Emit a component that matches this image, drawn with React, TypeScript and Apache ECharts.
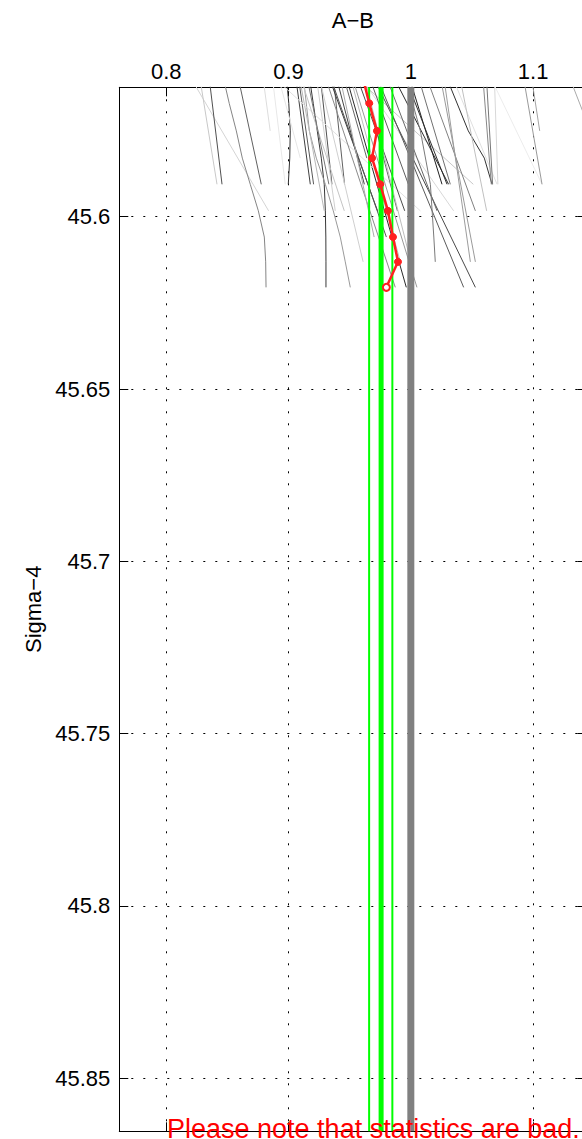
import React, { useEffect, useRef } from "react";
import * as echarts from "echarts";

const xTicks = [0.8, 0.9, 1, 1.1];
const yTicks = [45.6, 45.65, 45.7, 45.75, 45.8, 45.85];
const xRange = [0.7616, 1.1435];
const yRange = [45.56245, 45.8654];

const depthLevels = [45.5594, 45.5671, 45.5751, 45.583, 45.5906, 45.5983, 45.6059, 45.6131, 45.6205];
const meanProfile = [0.9606, 0.966, 0.9723, 0.9683, 0.975, 0.9813, 0.9854, 0.9895, 0.98];
const greenLines = [0.9659, 0.9757, 0.9849];
const referenceValue = 1;
const noteText = "Please note that statistics are bad.";

// each profile: [depth level index, value]
const profiles: [number, number][][] = [
  [[0, 0.8196], [5, 0.8837]],
  [[0, 0.8273], [4, 0.8415]],
  [[0, 0.835], [4, 0.8456]],
  [[0, 0.8465], [1, 0.8515], [2, 0.8573], [3, 0.8622], [4, 0.8687], [5, 0.8753], [6, 0.8802], [7, 0.8813], [8, 0.8816]],
  [[0, 0.8587], [4, 0.8777]],
  [[0, 0.8867], [4, 0.8973]],
  [[0, 0.8982], [1, 0.9002], [2, 0.9014], [3, 0.901], [4, 0.8998]],
  [[0, 0.9058], [4, 0.9178]],
  [[0, 0.908], [4, 0.9205]],
  [[0, 0.917], [1, 0.9202], [2, 0.9235], [3, 0.9268], [4, 0.9292], [5, 0.9301], [6, 0.9305], [7, 0.9306], [8, 0.9306]],
  [[0, 0.926], [4, 0.9355]],
  [[0, 0.9227], [5, 0.9382]],
  [[0, 0.9366], [4, 0.9458]],
  [[0, 0.9121], [2, 0.917], [3, 0.9227], [4, 0.9301], [5, 0.9366], [6, 0.9423], [7, 0.9464], [8, 0.9505]],
  [[0, 0.9088], [5, 0.9292]],
  [[0, 0.933], [5, 0.9728]],
  [[0, 0.9472], [8, 0.9963]],
  [[0, 0.9546], [4, 1.0511]],
  [[0, 0.8875], [5, 1.0078]],
  [[0, 0.9587], [5, 1.035]],
  [[0, 0.9693], [8, 1.0528]],
  [[0, 0.9722], [8, 1.0432]],
  [[0, 0.98], [5, 1.0214]],
  [[0, 0.9986], [4, 1.0255]],
  [[0, 0.9952], [4, 1.0296]],
  [[0, 0.9859], [4, 1.0309]],
  [[0, 1.0061], [4, 1.0323]],
  [[0, 1.0127], [5, 1.0528]],
  [[0, 1.0269], [7, 1.0487]],
  [[0, 1.029], [2, 1.047], [3, 1.0601], [4, 1.0664]],
  [[0, 1.0339], [4, 1.0705]],
  [[0, 1.0589], [4, 1.0658]],
  [[0, 1.0618], [4, 1.0669]],
  [[0, 1.065], [4, 1.1073]],
  [[0, 1.092], [4, 1.1073]],
  [[0, 1.0986], [2, 1.1054]],
  [[0, 1.1296], [2, 1.1468]],
  [[0, 0.9955], [2, 1.0078], [4, 1.016], [6, 1.0188], [7, 1.02]],
  [[0, 1.0241], [7, 1.0528]],
  [[0, 0.8916], [3, 0.9096]],
  [[0, 0.9342], [6, 0.98]],
  [[0, 0.9505], [7, 0.9914]],
  [[0, 0.9603], [5, 0.989]],
  [[0, 0.9096], [5, 0.9456]],
  [[0, 0.93], [8, 0.9873]],
  [[0, 1.0683], [4, 1.0712]],
  [[0, 0.939], [4, 0.962]],
  [[0, 0.942], [6, 0.97]],
  [[0, 0.945], [3, 0.964]],
  [[0, 0.952], [8, 1.005]],
  [[0, 0.925], [7, 0.961]],
  [[0, 0.915], [4, 0.933]],
  [[0, 0.956], [5, 0.995]],
  [[0, 0.962], [7, 1.0]],
  [[0, 0.966], [4, 0.998]],
  [[0, 1.04], [5, 1.062]],
  [[0, 0.879], [2, 0.885]],
];

const profileShades = [
  "#d4d4d4", "#c8c8c8", "#505050", "#858585", "#606060", "#e8e8e8", "#303030", "#404040",
  "#585858", "#383838", "#505050", "#d0d0d0", "#606060", "#9a9a9a", "#b8b8b8", "#3a3a3a",
  "#2a2a2a", "#c8c8c8", "#e0e0e0", "#d8d8d8", "#4a4a4a", "#5a5a5a", "#686868", "#202020",
  "#303030", "#2c2c2c", "#707070", "#808080", "#9c9c9c", "#333333", "#e0e0e0", "#888888",
  "#777777", "#ececec", "#999999", "#a4a4a4", "#aaaaaa", "#7a7a7a", "#9a9a9a", "#e6e6e6",
  "#555555", "#bbbbbb", "#6a6a6a", "#c4c4c4", "#8a8a8a", "#d8d8d8",
  "#444444", "#aaaaaa", "#666666", "#999999", "#cfcfcf", "#777777", "#4c4c4c", "#bdbdbd",
  "#5e5e5e", "#c0c0c0", "#dddddd",
];

export default function App() {
  const ref = useRef<HTMLDivElement>(null);

  useEffect(() => {
    if (!ref.current) return;
    const chart = echarts.init(ref.current, null, { renderer: "svg" });
    const font = "'Liberation Sans', Arial, Helvetica, sans-serif";
    const red = "#ff2020";
    const greenWidths = [2, 5, 2];

    const profileSeries = profiles.map((p, i) => ({
      type: "line",
      data: p.map(([lvl, x]) => [x, depthLevels[lvl]]),
      symbol: "none",
      showSymbol: false,
      silent: true,
      lineStyle: { color: profileShades[i % profileShades.length], width: 1 },
    }));

    const greenSeries = greenLines.map((x, i) => ({
      type: "line",
      data: [[x, yRange[0]], [x, yRange[1]]],
      symbol: "none",
      silent: true,
      lineStyle: { color: "#00ff00", width: greenWidths[i] },
    }));

    const refSeries = {
      type: "line",
      data: [[referenceValue, yRange[0]], [referenceValue, yRange[1]]],
      symbol: "none",
      silent: true,
      lineStyle: { color: "#808080", width: 7 },
    };

    const last = meanProfile.length - 1;
    const meanSeries = {
      type: "line",
      data: meanProfile.map((x, i) => ({
        value: [x, depthLevels[i]],
        symbol: i === 0 ? "none" : "circle",
        itemStyle:
          i === last
            ? { color: "#ffffff", borderColor: red, borderWidth: 2 }
            : { color: red, borderColor: red, borderWidth: 1 },
      })),
      symbolSize: 7,
      showSymbol: true,
      silent: true,
      lineStyle: { color: red, width: 2.5 },
    };

    const axisLineStyle = { show: true, onZero: false, lineStyle: { color: "#000", width: 1 } };
    const dotted = { show: true, lineStyle: { color: "#000", width: 1, type: [2, 10] } };
    const labelStyle = { fontSize: 22, color: "#000", fontFamily: font };

    chart.setOption({
      animation: false,
      backgroundColor: "#fff",
      grid: { left: 119.3, top: 87.3, width: 467, height: 1044, containLabel: false },
      xAxis: [
        {
          type: "value",
          position: "top",
          min: xRange[0],
          max: xRange[1],
          name: "A−B",
          nameLocation: "middle",
          nameGap: 56,
          nameTextStyle: labelStyle,
          axisLine: axisLineStyle,
          axisTick: { show: true, inside: true, length: 9, customValues: xTicks, lineStyle: { color: "#000" } },
          axisLabel: { show: true, customValues: xTicks, margin: 5, ...labelStyle },
          splitLine: dotted,
        },
        {
          type: "value",
          position: "bottom",
          min: xRange[0],
          max: xRange[1],
          axisLine: axisLineStyle,
          axisTick: { show: true, inside: true, length: 9, customValues: xTicks, lineStyle: { color: "#000" } },
          axisLabel: { show: false },
          splitLine: { show: false },
        },
      ],
      yAxis: [
        {
          type: "value",
          position: "left",
          inverse: true,
          min: yRange[0],
          max: yRange[1],
          name: "Sigma−4",
          nameLocation: "middle",
          nameGap: 75,
          nameRotate: 90,
          nameTextStyle: labelStyle,
          axisLine: axisLineStyle,
          axisTick: { show: true, inside: true, length: 9, customValues: yTicks, lineStyle: { color: "#000" } },
          axisLabel: { show: true, customValues: yTicks, margin: 9, ...labelStyle },
          splitLine: dotted,
        },
        {
          type: "value",
          position: "right",
          inverse: true,
          min: yRange[0],
          max: yRange[1],
          axisLine: axisLineStyle,
          axisTick: { show: true, inside: true, length: 9, customValues: yTicks, lineStyle: { color: "#000" } },
          axisLabel: { show: false },
          splitLine: { show: false },
        },
      ],
      series: [...profileSeries, ...greenSeries, refSeries, meanSeries],
      graphic: [
        {
          type: "text",
          x: 167,
          y: 1129,
          z: 100,
          silent: true,
          style: {
            text: noteText,
            fill: "#ff0000",
            fontSize: 27,
            fontFamily: font,
            align: "left",
            verticalAlign: "middle",
          },
        },
      ],
    });

    return () => chart.dispose();
  }, []);

  return (
    <div
      style={{
        position: "fixed",
        left: 0,
        top: 0,
        width: 582,
        height: 1139,
        overflow: "hidden",
        background: "#fff",
      }}
    >
      <div ref={ref} style={{ width: 600, height: 1139 }} />
    </div>
  );
}
